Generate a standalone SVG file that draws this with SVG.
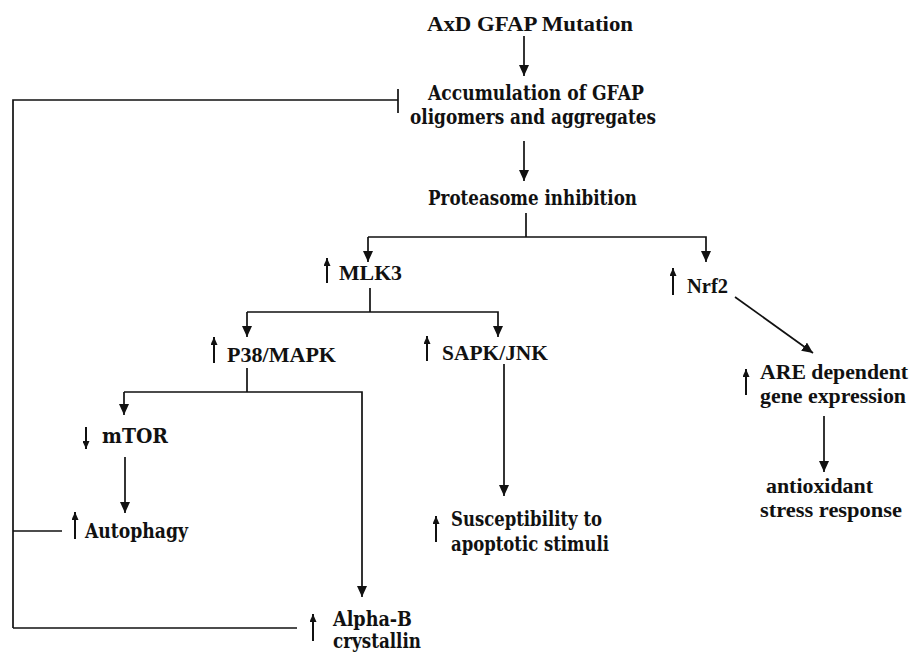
<svg xmlns="http://www.w3.org/2000/svg" width="912" height="653" viewBox="0 0 912 653">
<style>
text{font-family:"DejaVu Serif","Liberation Serif",serif;font-weight:bold;font-size:20px;fill:#111}
text.t{font-family:"Liberation Serif","Times New Roman",serif;font-size:21px}
.c line,.c polyline{stroke:#111;stroke-width:1.7;fill:none}
.u{stroke:#111;stroke-width:2;fill:none}
</style>
<defs>
<marker id="ah" markerWidth="11" markerHeight="10" refX="11" refY="5" orient="auto" markerUnits="userSpaceOnUse" viewBox="0 0 11 10">
<path d="M0,0 L11,5 L0,10 z" fill="#111"/>
</marker>
<marker id="ahs" markerWidth="8" markerHeight="7" refX="8" refY="3.5" orient="auto" markerUnits="userSpaceOnUse" viewBox="0 0 8 7">
<path d="M0,0 L8,3.5 L0,7 z" fill="#111"/>
</marker>
</defs>
<g class="c" id="connectors">
<line x1="524" y1="36" x2="524" y2="76" marker-end="url(#ah)"/>
<polyline points="13,628 13,100 398,100"/>
<line x1="398" y1="89" x2="398" y2="113"/>
<line x1="524" y1="141" x2="524" y2="181" marker-end="url(#ah)"/>
<line x1="526" y1="213" x2="526" y2="237"/>
<polyline points="368,237 706,237 706,262" marker-end="url(#ah)"/>
<line x1="368" y1="237" x2="368" y2="262" marker-end="url(#ah)"/>
<line x1="370" y1="288" x2="370" y2="312"/>
<polyline points="247,312 498,312 498,337" marker-end="url(#ah)"/>
<line x1="247" y1="312" x2="247" y2="337" marker-end="url(#ah)"/>
<line x1="735" y1="297" x2="813" y2="353" marker-end="url(#ah)"/>
<line x1="247" y1="368" x2="247" y2="392"/>
<polyline points="124,392 362,392 362,597" marker-end="url(#ah)"/>
<line x1="124" y1="392" x2="124" y2="415" marker-end="url(#ah)"/>
<line x1="504" y1="364" x2="504" y2="496" marker-end="url(#ah)"/>
<line x1="824" y1="416" x2="824" y2="472" marker-end="url(#ah)"/>
<line x1="125" y1="457" x2="125" y2="513" marker-end="url(#ah)"/>
<line x1="13" y1="531" x2="62" y2="531"/>
<line x1="13" y1="628" x2="297" y2="628"/>
</g>
<g id="n-mutation"><text class="t" x="427" y="31" textLength="206" lengthAdjust="spacingAndGlyphs">AxD  GFAP Mutation</text></g>
<g id="n-accumulation">
<text x="428" y="100" textLength="216" lengthAdjust="spacingAndGlyphs">Accumulation of GFAP</text>
<text x="410" y="124" textLength="246" lengthAdjust="spacingAndGlyphs">oligomers  and aggregates</text>
</g>
<g id="n-proteasome"><text x="428" y="205" textLength="209" lengthAdjust="spacingAndGlyphs">Proteasome inhibition</text></g>
<g id="n-mlk3">
<line class="u" x1="327" y1="283" x2="327" y2="258" marker-end="url(#ahs)"/>
<text class="t" x="339" y="280" textLength="63" lengthAdjust="spacingAndGlyphs">MLK3</text>
</g>
<g id="n-nrf2">
<line class="u" x1="673" y1="295" x2="673" y2="268" marker-end="url(#ahs)"/>
<text class="t" x="687" y="293" textLength="41" lengthAdjust="spacingAndGlyphs">Nrf2</text>
</g>
<g id="n-p38">
<line class="u" x1="214" y1="363" x2="214" y2="337" marker-end="url(#ahs)"/>
<text class="t" x="227" y="362" textLength="109" lengthAdjust="spacingAndGlyphs">P38/MAPK</text>
</g>
<g id="n-sapk">
<line class="u" x1="427" y1="361" x2="427" y2="336" marker-end="url(#ahs)"/>
<text class="t" x="442" y="360" textLength="106" lengthAdjust="spacingAndGlyphs">SAPK/JNK</text>
</g>
<g id="n-are">
<line class="u" x1="746" y1="395" x2="746" y2="369" marker-end="url(#ahs)"/>
<text class="t" x="760" y="379" textLength="148" lengthAdjust="spacingAndGlyphs">ARE dependent</text>
<text class="t" x="760" y="403" textLength="146" lengthAdjust="spacingAndGlyphs">gene expression</text>
</g>
<g id="n-mtor">
<line class="u" x1="86" y1="427" x2="86" y2="449" marker-end="url(#ahs)"/>
<text x="102" y="443" textLength="66" lengthAdjust="spacingAndGlyphs">mTOR</text>
</g>
<g id="n-autophagy">
<line class="u" x1="75" y1="539" x2="75" y2="512" marker-end="url(#ahs)"/>
<text x="85" y="538" textLength="103" lengthAdjust="spacingAndGlyphs">Autophagy</text>
</g>
<g id="n-susceptibility">
<line class="u" x1="436" y1="542" x2="436" y2="516" marker-end="url(#ahs)"/>
<text x="451" y="526" textLength="151" lengthAdjust="spacingAndGlyphs">Susceptibility to</text>
<text x="451" y="551" textLength="158" lengthAdjust="spacingAndGlyphs">apoptotic stimuli</text>
</g>
<g id="n-antioxidant">
<text class="t" x="766" y="493" textLength="107" lengthAdjust="spacingAndGlyphs">antioxidant</text>
<text class="t" x="760" y="517" textLength="142" lengthAdjust="spacingAndGlyphs">stress response</text>
</g>
<g id="n-alphab">
<line class="u" x1="313" y1="641" x2="313" y2="614" marker-end="url(#ahs)"/>
<text x="333" y="626" textLength="79" lengthAdjust="spacingAndGlyphs">Alpha-B</text>
<text x="333" y="648" textLength="88" lengthAdjust="spacingAndGlyphs">crystallin</text>
</g>
</svg>
